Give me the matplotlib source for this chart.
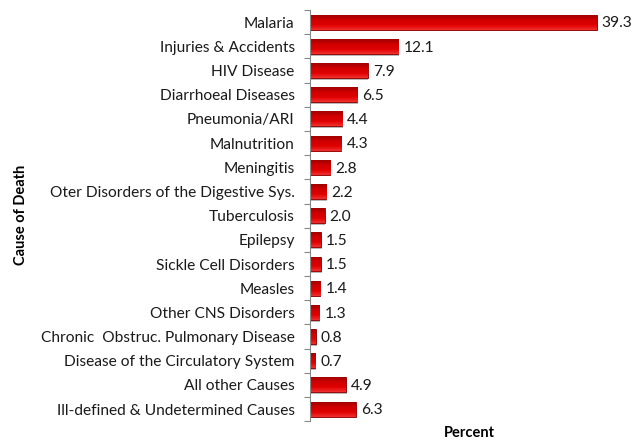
import numpy as np
import matplotlib
matplotlib.use('Agg')
import matplotlib.pyplot as plt
from matplotlib.colors import LinearSegmentedColormap

# Datos: causas de muerte (porcentaje)
causas = ['Malaria', 'Injuries & Accidents', 'HIV Disease', 'Diarrhoeal Diseases',
          'Pneumonia/ARI', 'Malnutrition', 'Meningitis',
          'Oter Disorders of the Digestive Sys.', 'Tuberculosis', 'Epilepsy',
          'Sickle Cell Disorders', 'Measles', 'Other CNS Disorders',
          'Chronic  Obstruc. Pulmonary Disease', 'Disease of the Circulatory System',
          'All other Causes', 'Ill-defined & Undetermined Causes']
porcentajes = [39.3, 12.1, 7.9, 6.5, 4.4, 4.3, 2.8, 2.2, 2.0, 1.5, 1.5, 1.4, 1.3,
               0.8, 0.7, 4.9, 6.3]

plt.rcParams['font.family'] = ['Lato', 'DejaVu Sans']

fig = plt.figure(figsize=(6.33, 4.41), dpi=100)
ax = fig.add_axes([0.4897, 0.045, 0.507, 0.932])

y = np.arange(len(causas))
alto = 0.62

# sombra gris detras de cada barra
ax.barh(y + 0.07, np.array(porcentajes) + 0.12, height=alto, color='#b8b8b8',
        zorder=1, linewidth=0)
barras = ax.barh(y, porcentajes, height=alto, color='#d80000',
                 edgecolor='#900000', linewidth=0.6, zorder=2)

# degradado vertical para dar efecto 3D
cmap = LinearSegmentedColormap.from_list('rojo', ['#f03030', '#e00000', '#d00000', '#a00000'])
grad = np.linspace(0, 1, 64).reshape(-1, 1)
for b in barras:
    x0, y0 = b.get_x(), b.get_y()
    w, h = b.get_width(), b.get_height()
    im = ax.imshow(grad, cmap=cmap, aspect='auto', extent=(x0, x0 + w, y0, y0 + h),
                   origin='upper', zorder=2.5)
    im.set_clip_path(b)

for yi, v in zip(y, porcentajes):
    ax.text(v + 0.7, yi + 0.05, f'{v:.1f}', va='center', ha='left', fontsize=11.2,
            color='#1a1a1a')

ax.set_xlim(0, 44)
ax.set_ylim(len(causas) - 0.5, -0.5)
ax.set_yticks(y)
ax.set_yticklabels(causas, fontsize=11.2, color='#1a1a1a')
ax.set_yticks(np.arange(-0.5, len(causas)), minor=True)
ax.tick_params(axis='y', which='major', length=0, pad=11)
ax.tick_params(axis='y', which='minor', length=4, color='#888888', width=0.8)
ax.set_xticks([])

for s in ['top', 'right', 'bottom']:
    ax.spines[s].set_visible(False)
ax.spines['left'].set_color('#888888')
ax.spines['left'].set_linewidth(0.8)

fig.text(0.033, 0.5125, 'Cause of Death', rotation=90, ha='center', va='center',
         fontsize=10.5, fontweight='bold')
fig.text(0.742, 0.018, 'Percent', ha='center', va='center', fontsize=10.5,
         fontweight='bold')

fig.savefig('out.png', dpi=100)
plt.close(fig)
